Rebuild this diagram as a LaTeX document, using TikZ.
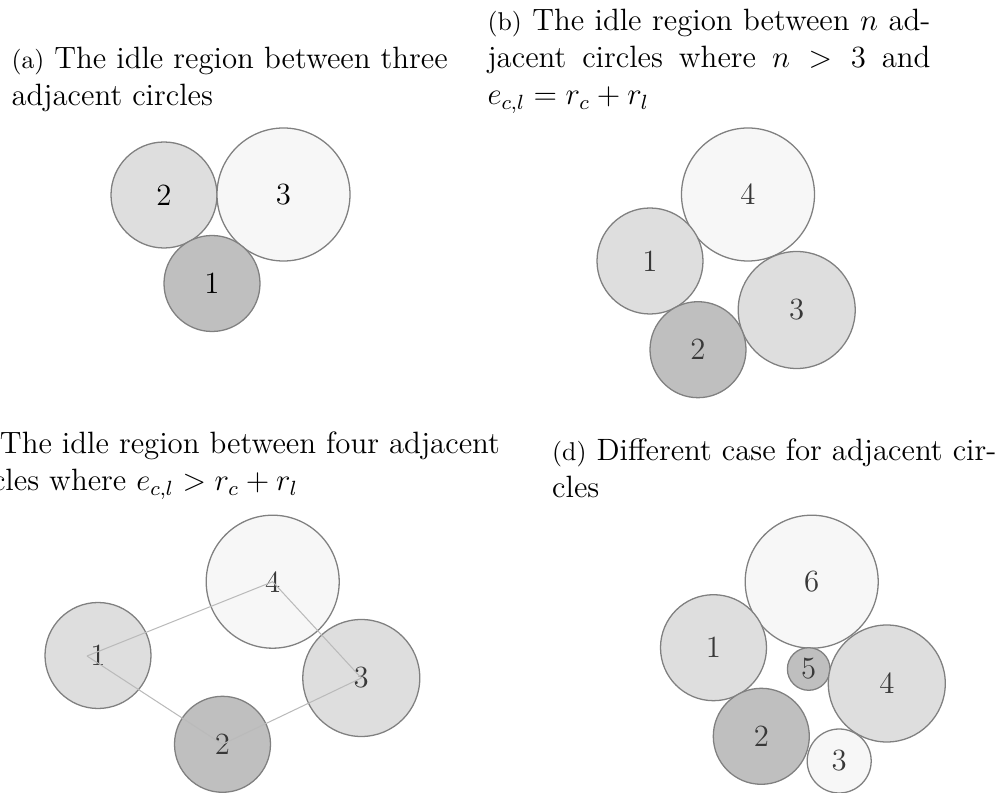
\documentclass[tikz,border=0pt,12pt]{standalone}
\usepackage{amsmath}

\newcommand{\pxu}{0.3891pt}

\begin{document}
\begin{tikzpicture}[
  x=\pxu,
  y=-\pxu,
  disc/.style={
    circle,
    draw=black!50,
    line width=0.5pt,
    inner sep=0pt,
    minimum size=2*#1*\pxu
  },
  paledisc/.style={disc=#1, fill=black!3},
  greydisc/.style={disc=#1, fill=black!13},
  darkdisc/.style={disc=#1, fill=black!25},
  soft/.style={text=black!78},
  link/.style={
    draw=black!27,
    line width=0.4pt
  },
  caption/.style={
    inner sep=0pt,
    anchor=north west,
    align=justify
  }
]

\path[use as bounding box] (0,0) rectangle (1003,793);

\node[caption, text width=470*\pxu] (capa) at (11,46.5)
  {{\footnotesize(a)} The idle region between three\\ adjacent circles};
\node[caption, text width=443*\pxu] (capb) at (487,8.5)
  {{\footnotesize(b)} The idle region between $n$ ad-\linebreak
   jacent circles where $n>3$ and\linebreak $e_{c,l}=r_c+r_l$};
\node[caption, text width=600*\pxu] (capc) at (-42,431.5)
  {{\footnotesize(c)} The idle region between four adjacent\\
   circles where $e_{c,l}>r_c+r_l$};
\node[caption, text width=470*\pxu] (capd) at (551.7,438.5)
  {{\footnotesize(d)} Different case for adjacent cir-\\ cles};

\node[greydisc=53] (a2) at (164,195) {2};
\node[paledisc=66.5] (a3) at (283.5,194.5) {3};
\node[darkdisc=48] (a1) at (212,283.5) {1};

\node[paledisc=66.5, soft] (b4) at (748,194.5) {4};
\node[greydisc=53, soft] (b1) at (650,261) {1};
\node[greydisc=58.5, soft] (b3) at (796.7,310) {3};
\node[darkdisc=48, soft] (b2) at (698,349.7) {2};

\node[paledisc=66.5, soft] (c4) at (272.7,581.7) {4};
\node[greydisc=53, soft] (c1) at (98,655.5) {1};
\node[greydisc=58.5, soft] (c3) at (361.3,678) {3};
\node[darkdisc=48, soft] (c2) at (222.5,744.3) {2};
\coordinate (v1) at (87,656);

\draw[link] (v1) -- (c4.center) -- (c3.center) -- (c2.center) -- (v1);

\node[paledisc=66.5, soft] (d6) at (811.7,581.7) {6};
\node[greydisc=53, soft] (d1) at (713.5,647.7) {1};
\node[darkdisc=21.3, soft] (d5) at (808.7,669) {5};
\node[greydisc=58.5, soft] (d4) at (886.8,683.5) {4};
\node[darkdisc=48, soft] (d2) at (761.3,736.3) {2};
\node[paledisc=32, soft] (d3) at (839.2,761) {3};

\end{tikzpicture}
\end{document}
